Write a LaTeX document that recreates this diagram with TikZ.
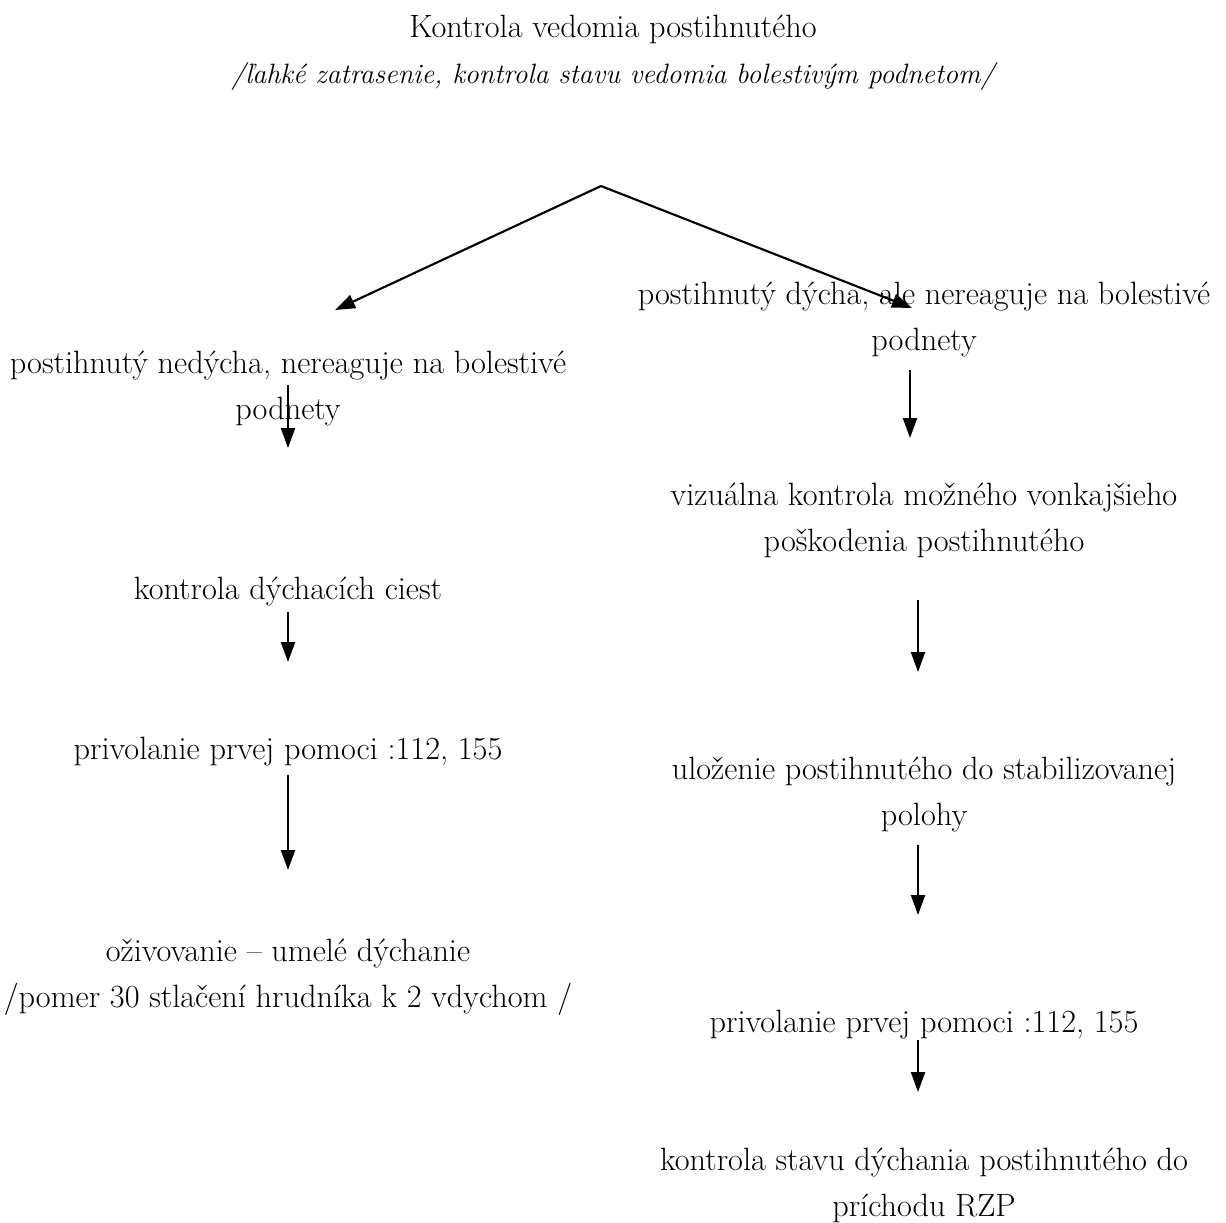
\documentclass[tikz,border=0pt]{standalone}
\usetikzlibrary{arrows.meta}
\begin{document}
\begin{tikzpicture}[x=0.75pt,y=-0.75pt,
  txt/.style={align=center,inner sep=0pt,font=\fontsize{24.2}{34.5}\selectfont},
  arr/.style={line width=1.6pt,-{Triangle[width=10.5pt,length=15pt]}}]
\useasboundingbox (0,0) rectangle (1226,1222);
% title
\node[txt] (title) at (613,53) {Kontrola vedomia postihnutého\\{\fontsize{21}{34.5}\selectfont\itshape /ľahké zatrasenie, kontrola stavu vedomia bolestivým podnetom/}};
\coordinate (apex) at (601,186);
\coordinate (lt) at (335,310);
\coordinate (rt) at (912,308);
\draw[arr] (apex) -- (lt);
\draw[arr] (apex) -- (rt);
% left column
\node[txt] (l1) at (288,389) {postihnutý nedýcha, nereaguje na bolestivé\\podnety};
\node[txt] (l2) at (288,592) {kontrola dýchacích ciest};
\node[txt] (l3) at (288,752) {privolanie prvej pomoci :112, 155};
\node[txt] (l4) at (288,977) {oživovanie – umelé dýchanie\\/pomer 30 stlačení hrudníka k 2 vdychom /};
\coordinate (la1) at (288,385); \coordinate (lb1) at (288,448);
\coordinate (la2) at (288,612); \coordinate (lb2) at (288,662);
\coordinate (la3) at (288,775); \coordinate (lb3) at (288,870);
\draw[arr] (la1) -- (lb1);
\draw[arr] (la2) -- (lb2);
\draw[arr] (la3) -- (lb3);
% right column
\node[txt] (r1) at (924,320) {postihnutý dýcha, ale nereaguje na bolestivé\\podnety};
\node[txt] (r2) at (924,520) {vizuálna kontrola možného vonkajšieho\\poškodenia postihnutého};
\node[txt] (r3) at (924,795) {uloženie postihnutého do stabilizovanej\\polohy};
\node[txt] (r4) at (924,1025) {privolanie prvej pomoci :112, 155};
\node[txt] (r5) at (924,1185) {kontrola stavu dýchania postihnutého do\\príchodu RZP};
\coordinate (ra1) at (910,370); \coordinate (rb1) at (910,438);
\coordinate (ra2) at (918,600); \coordinate (rb2) at (918,672);
\coordinate (ra3) at (918,845); \coordinate (rb3) at (918,915);
\coordinate (ra4) at (918,1040); \coordinate (rb4) at (918,1092);
\draw[arr] (ra1) -- (rb1);
\draw[arr] (ra2) -- (rb2);
\draw[arr] (ra3) -- (rb3);
\draw[arr] (ra4) -- (rb4);
\end{tikzpicture}
\end{document}
